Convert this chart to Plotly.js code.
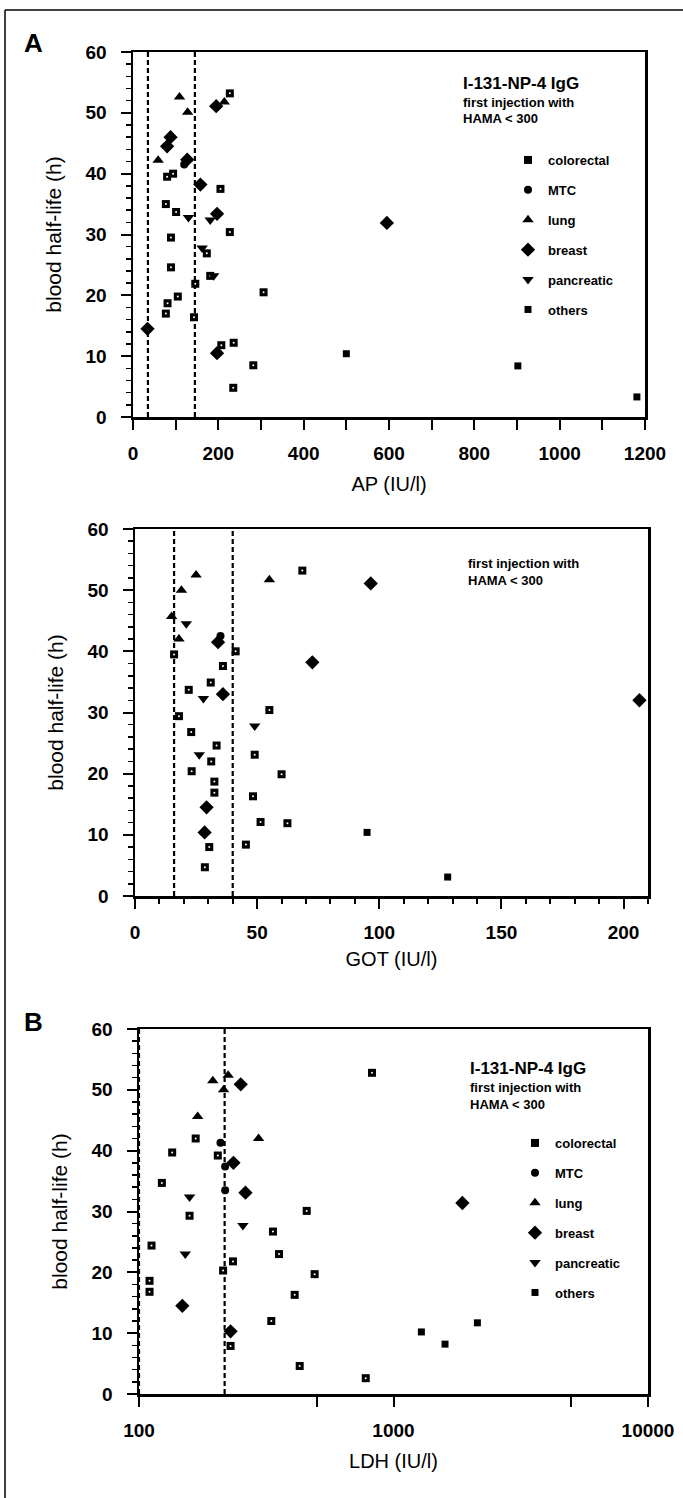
<!DOCTYPE html>
<html><head><meta charset="utf-8">
<script src="https://cdn.plot.ly/plotly-3.0.1.min.js"></script>
<style>html,body{margin:0;padding:0;background:#fff;}#chart{width:683px;height:1498px;}</style>
</head><body><div id="chart"></div>
<script>
// ---------- DATA ----------
const seriesNames = ['colorectal','MTC','lung','breast','pancreatic','others'];
const yTickValues = [0,10,20,30,40,50,60];

// Panel A: AP (IU/l) vs blood half-life (h)
const apColorectalX = [227, 80, 94, 205, 77, 101, 227, 89, 173, 89, 181, 146, 306, 105, 81, 77, 143, 207, 236, 282, 235];
const apColorectalY = [53.2, 39.5, 40, 37.5, 35, 33.7, 30.4, 29.5, 26.9, 24.6, 23.2, 21.9, 20.5, 19.8, 18.7, 17, 16.4, 11.8, 12.2, 8.5, 4.8];
const apMtcX = [120];
const apMtcY = [41.5];
const apLungX = [109, 214, 128, 59];
const apLungY = [52.6, 51.8, 50.1, 42.2];
const apBreastX = [195, 80, 88, 127, 158, 197, 595, 34, 197];
const apBreastY = [51.1, 44.5, 46, 42.3, 38.2, 33.4, 31.9, 14.5, 10.5];
const apPancreaticX = [130, 181, 162, 189];
const apPancreaticY = [32.8, 32.4, 27.8, 23.2];
const apOthersX = [500, 902, 1181];
const apOthersY = [10.4, 8.4, 3.3];
const apNormalLimits = [35, 145];
const apTickValues = [0, 200, 400, 600, 800, 1000, 1200];

// Panel GOT (IU/l)
const gotColorectalX = [16, 41.2, 36, 31, 22, 55, 18, 23, 33.4, 49, 31.2, 23.2, 60, 32.5, 32.5, 48.3, 51.4, 62.4, 30.4, 45.4, 28.6, 68.5];
const gotColorectalY = [39.5, 40, 37.6, 34.9, 33.7, 30.4, 29.4, 26.8, 24.6, 23.1, 22, 20.4, 19.9, 18.7, 16.9, 16.3, 12.1, 11.9, 8, 8.4, 4.7, 53.2];
const gotMtcX = [35];
const gotMtcY = [42.5];
const gotLungX = [25, 19, 15, 18, 55];
const gotLungY = [52.5, 50, 45.7, 42, 51.7];
const gotBreastX = [34, 72.6, 36, 29.3, 28.5, 96.5, 206.5];
const gotBreastY = [41.5, 38.2, 33, 14.5, 10.4, 51.1, 32];
const gotPancreaticX = [21, 28, 49, 26.3];
const gotPancreaticY = [44.5, 32.3, 27.8, 23.1];
const gotOthersX = [95, 128];
const gotOthersY = [10.4, 3.1];
const gotNormalLimits = [16, 40];
const gotTickValues = [0, 50, 100, 150, 200];

// Panel B: LDH (IU/l), log scale
const ldhColorectalX = [167, 135, 204, 123, 456, 158, 336, 112, 355, 234, 214, 490, 110, 110, 409, 331, 229, 428, 778, 823];
const ldhColorectalY = [42, 39.7, 39.2, 34.7, 30.1, 29.3, 26.7, 24.4, 23, 21.8, 20.3, 19.7, 18.6, 16.8, 16.3, 12, 7.9, 4.6, 2.6, 52.8];
const ldhMtcX = [209, 218, 218];
const ldhMtcY = [41.3, 37.4, 33.5];
const ldhLungX = [195, 224, 215, 170, 295];
const ldhLungY = [51.5, 52.4, 50, 45.6, 42];
const ldhBreastX = [251, 235, 262, 148, 229, 1865];
const ldhBreastY = [50.9, 38, 33.1, 14.5, 10.3, 31.4];
const ldhPancreaticX = [158, 256, 152];
const ldhPancreaticY = [32.4, 27.7, 23];
const ldhOthersX = [1287, 1594, 2136];
const ldhOthersY = [10.2, 8.2, 11.7];
const ldhNormalLimits = [100, 217];
const ldhTickValues = [100, 1000, 10000];
const ldhMinorTickValues = [500, 5000];

// ---------- LAYOUT HELPERS ----------
const W = 683, H = 1498;
const FONT = 'Liberation Sans, Arial, Helvetica, sans-serif';
const px = v => v / W;
const py = v => 1 - v / H;

const boxes = {
  a:   {x0:133, x1:645, y0:52,   y1:417},
  got: {x0:135, x1:648, y0:529,  y1:896},
  b:   {x0:139, x1:648, y0:1029, y1:1394}
};

const symbols = {
  colorectal:{symbol:'square', size:8},
  MTC:{symbol:'circle', size:8},
  lung:{symbol:'triangle-up', size:10},
  breast:{symbol:'diamond', size:11},
  pancreatic:{symbol:'triangle-down', size:10},
  others:{symbol:'square', size:7}
};

const traces = [];
function addSeries(name, xs, ys, xa, ya, legend, showlegend) {
  const s = symbols[name];
  traces.push({
    type:'scatter', mode:'markers', name:name, x:xs, y:ys, xaxis:xa, yaxis:ya,
    legend:legend, legendgroup:legend + name, showlegend:showlegend, cliponaxis:false,
    marker:{symbol:s.symbol, size:s.size, color:'#000', line:{width:0}}
  });
  if (name === 'colorectal') {
    traces.push({
      type:'scatter', mode:'markers', x:xs, y:ys, xaxis:xa, yaxis:ya, showlegend:false,
      hoverinfo:'skip', cliponaxis:false,
      marker:{symbol:'circle', size:2, color:'#fff', line:{width:0}}
    });
  }
}
function addLimits(vals, xa, ya) {
  vals.forEach(v => traces.push({
    type:'scatter', mode:'lines', x:[v, v], y:[yTickValues[0], yTickValues[yTickValues.length-1]],
    xaxis:xa, yaxis:ya, showlegend:false, hoverinfo:'skip',
    line:{color:'#000', width:2.2, dash:'5px,3px'}
  }));
}

addLimits(apNormalLimits, 'x', 'y');
addLimits(gotNormalLimits, 'x2', 'y2');
addLimits(ldhNormalLimits, 'x3', 'y3');

const apData = [[apColorectalX,apColorectalY],[apMtcX,apMtcY],[apLungX,apLungY],[apBreastX,apBreastY],[apPancreaticX,apPancreaticY],[apOthersX,apOthersY]];
const gotData = [[gotColorectalX,gotColorectalY],[gotMtcX,gotMtcY],[gotLungX,gotLungY],[gotBreastX,gotBreastY],[gotPancreaticX,gotPancreaticY],[gotOthersX,gotOthersY]];
const ldhData = [[ldhColorectalX,ldhColorectalY],[ldhMtcX,ldhMtcY],[ldhLungX,ldhLungY],[ldhBreastX,ldhBreastY],[ldhPancreaticX,ldhPancreaticY],[ldhOthersX,ldhOthersY]];
seriesNames.forEach((n,i) => addSeries(n, apData[i][0], apData[i][1], 'x', 'y', 'legend', true));
seriesNames.forEach((n,i) => addSeries(n, gotData[i][0], gotData[i][1], 'x2', 'y2', 'legend', false));
seriesNames.forEach((n,i) => addSeries(n, ldhData[i][0], ldhData[i][1], 'x3', 'y3', 'legend2', true));

const tickFont = {family:FONT, size:19, weight:'bold', color:'#000'};
const titleFont = {family:FONT, size:20, color:'#000'};

function yAxis(box, anchor) {
  return {
    domain:[py(box.y1), py(box.y0)], anchor:anchor, range:[0,60],
    tickmode:'array', tickvals:yTickValues,
    showline:true, linewidth:2.5, linecolor:'#000', mirror:true,
    ticks:'outside', ticklen:10, tickwidth:2, tickcolor:'#000',
    minor:{dtick:2, tick0:0, ticks:'outside', ticklen:5, tickwidth:1.5, tickcolor:'#000', showgrid:false},
    showgrid:false, zeroline:false, automargin:false, fixedrange:true,
    tickfont:tickFont, ticklabelstandoff:10,
    title:{text:'blood half-life (h)', font:{family:FONT, size:21, color:'#000'}, standoff:18}
  };
}
function xAxisBase(box, anchor) {
  return {
    domain:[px(box.x0), px(box.x1)], anchor:anchor,
    showline:true, linewidth:2.5, linecolor:'#000', mirror:true,
    ticks:'outside', ticklen:10, tickwidth:2, tickcolor:'#000',
    showgrid:false, zeroline:false, automargin:false, fixedrange:true,
    tickfont:tickFont, ticklabelstandoff:8
  };
}

const xa1 = Object.assign(xAxisBase(boxes.a, 'y'), {
  range:[0,1200], tickmode:'array', tickvals:apTickValues,
  minor:{dtick:100, tick0:0, ticks:'outside', ticklen:10, tickwidth:2, tickcolor:'#000', showgrid:false},
  title:{text:'AP (IU/l)', font:titleFont, standoff:14}
});
const xa2 = Object.assign(xAxisBase(boxes.got, 'y2'), {
  range:[0,210], tickmode:'array', tickvals:gotTickValues,
  minor:{dtick:10, tick0:0, ticks:'outside', ticklen:5, tickwidth:2, tickcolor:'#000', showgrid:false},
  title:{text:'GOT (IU/l)', font:titleFont, standoff:10}
});
const xa3 = Object.assign(xAxisBase(boxes.b, 'y3'), {
  type:'log', range:[2,4], tickmode:'array', tickvals:ldhTickValues, ticktext:ldhTickValues.map(String),
  minor:{tickmode:'array', tickvals:ldhMinorTickValues, ticks:'outside', ticklen:10, tickwidth:2, tickcolor:'#000', showgrid:false},
  title:{text:'LDH (IU/l)', font:titleFont, standoff:14}
});

const annFont = s => ({family:FONT, size:s, color:'#000', weight:'bold'});
function note(text, x, y, size) {
  return {text:text, xref:'paper', yref:'paper', x:px(x), y:py(y), xanchor:'left', yanchor:'middle',
          showarrow:false, font:annFont(size)};
}
const annotations = [
  note('A', 22, 43, 26),
  note('B', 22, 1022, 26),
  note('I-131-NP-4 IgG', 461, 83, 17),
  note('first injection with', 461, 102, 13),
  note('HAMA &lt; 300', 461, 119, 13),
  note('first injection with', 466, 563, 13),
  note('HAMA &lt; 300', 466, 580, 13),
  note('I-131-NP-4 IgG', 468, 1068, 17),
  note('first injection with', 468, 1087, 13),
  note('HAMA &lt; 300', 468, 1104, 13)
];

const legendBase = {
  bgcolor:'rgba(0,0,0,0)', borderwidth:0, font:{family:FONT, size:13, weight:'bold', color:'#000'},
  xanchor:'left', yanchor:'top', traceorder:'grouped', tracegroupgap:10, itemclick:false, itemdoubleclick:false
};

const layout = {
  width:W, height:H, margin:{l:0, r:0, t:0, b:0}, paper_bgcolor:'#fff', plot_bgcolor:'#fff',
  showlegend:true, hovermode:false,
  xaxis:xa1, yaxis:yAxis(boxes.a, 'x'),
  xaxis2:xa2, yaxis2:yAxis(boxes.got, 'x2'),
  xaxis3:xa3, yaxis3:yAxis(boxes.b, 'x3'),
  legend:Object.assign({}, legendBase, {x:px(508), y:py(145)}),
  legend2:Object.assign({}, legendBase, {x:px(515), y:py(1128)}),
  annotations:annotations,
  shapes:[
    {type:'line', xref:'paper', yref:'paper', x0:px(5), x1:1, y0:py(10), y1:py(10), line:{color:'#000', width:1.5}},
    {type:'line', xref:'paper', yref:'paper', x0:px(5), x1:px(5), y0:py(10), y1:0, line:{color:'#000', width:1.5}}
  ]
};

Plotly.newPlot('chart', traces, layout, {staticPlot:true, displayModeBar:false});
</script>
</body></html>
